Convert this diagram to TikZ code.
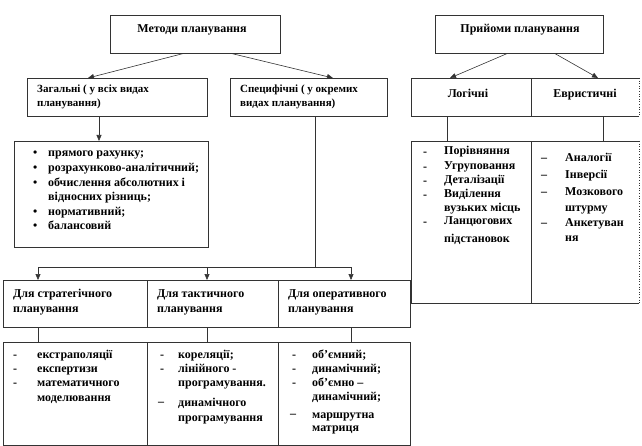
\documentclass[tikz,border=0pt]{standalone}
\usepackage{fontspec}
\setmainfont{Liberation Serif}
\usetikzlibrary{arrows.meta}
\begin{document}
\begin{tikzpicture}[x=1pt,y=-1pt,
  every node/.style={font=\fontsize{12}{14}\selectfont\bfseries},
  box/.style={draw=black!80, line width=0.6pt, inner sep=0pt, anchor=north west},
  openbox/.style={inner sep=0pt, anchor=north west},
  conn/.style={draw=black!80, line width=0.6pt},
  arr/.style={conn, -{Triangle[length=6pt,width=5pt]}},
  txt/.style={anchor=base west, inner sep=0pt},
  stxt/.style={txt, font=\fontsize{11}{13}\selectfont\bfseries},
  ctxt/.style={anchor=base, inner sep=0pt}]
\useasboundingbox (0,0) rectangle (642,446);

% top boxes
\node[box, minimum width=170pt, minimum height=38pt] (metody) at (110,15) {};
\node[box, minimum width=168pt, minimum height=38pt] (pryiomy) at (435,15) {};
\node[ctxt] (tmetody) at (192,33) {Методи планування};
\node[ctxt] (tpryiomy) at (520,33) {Прийоми планування};

% second row
\node[box, minimum width=180pt, minimum height=38pt] (zag) at (27,78) {};
\node[box, minimum width=157pt, minimum height=38pt] (spec) at (230,78) {};
\node[box, minimum width=120pt, minimum height=38pt] (log) at (411,78) {};
\node[openbox, minimum width=108pt, minimum height=38pt] (evr) at (531,78) {};
\draw[conn] (evr.north west) -- (evr.north east);
\draw[conn] (evr.south west) -- (evr.south east);
\draw[conn, dotted] (evr.north east) -- (evr.south east);

\node[stxt] (tzag1) at (37,93) {Загальні ( у всіх видах};
\node[stxt] (tzag2) at (37,107) {планування)};
\node[stxt] (tspec1) at (240,93) {Специфічні ( у окремих};
\node[stxt] (tspec2) at (240,107) {видах планування)};
\node[ctxt] (tlog) at (468,98) {Логічні};
\node[ctxt] (tevr) at (585,98) {Евристичні};

% arrows from top boxes
\draw[arr] ([xshift=73pt]metody.south west) -- ([xshift=61pt]zag.north west);
\draw[arr] ([xshift=122pt]metody.south west) -- ([xshift=103pt]spec.north west);
\draw[arr] ([xshift=72pt]pryiomy.south west) -- ([xshift=39pt]log.north west);
\draw[arr] ([xshift=120pt]pryiomy.south west) -- ([xshift=67pt]evr.north west);

% bullet list box
\node[box, minimum width=194pt, minimum height=106pt] (bul) at (14,141) {};
\draw[arr] ([xshift=72pt]zag.south west) -- ([xshift=85pt]bul.north west);
\node[txt] (b1d) at (33,157) {•};
\node[txt] (b1) at (48,157) {прямого рахунку;};
\node[txt] (b2d) at (33,172) {•};
\node[txt] (b2) at (48,172) {розрахунково-аналітичний;};
\node[txt] (b3d) at (33,187) {•};
\node[txt] (b3) at (48,187) {обчислення абсолютних і};
\node[txt] (b3b) at (48,201) {відносних різниць;};
\node[txt] (b4d) at (33,216) {•};
\node[txt] (b4) at (48,216) {нормативний;};
\node[txt] (b5d) at (33,230) {•};
\node[txt] (b5) at (48,230) {балансовий};

% logical / heuristic lists
\node[box, minimum width=120pt, minimum height=162pt] (loglist) at (411,141) {};
\node[openbox, minimum width=108pt, minimum height=162pt] (evrlist) at (531,141) {};
\draw[conn] (evrlist.north west) -- (evrlist.north east);
\draw[conn] (evrlist.south west) -- (evrlist.south east);
\draw[conn, dotted] (evrlist.north east) -- (evrlist.south east);
\draw[conn] ([xshift=36pt]log.south west) -- ([xshift=36pt]loglist.north west);
\draw[conn] ([xshift=72pt]evr.south west) -- ([xshift=72pt]evrlist.north west);

\node[txt] (l1d) at (423,156) {-};
\node[txt] (l1) at (444,155) {Порівняння};
\node[txt] (l2d) at (423,171) {-};
\node[txt] (l2) at (444,170) {Угруповання};
\node[txt] (l3d) at (423,185) {-};
\node[txt] (l3) at (444,184) {Деталізації};
\node[txt] (l4d) at (423,199) {-};
\node[txt] (l4) at (444,198) {Виділення};
\node[txt] (l4b) at (444,212) {вузьких місць};
\node[txt] (l5d) at (423,226) {-};
\node[txt] (l5) at (444,225) {Ланцюгових};
\node[txt] (l5b) at (444,243) {підстановок};

\node[txt] (e1d) at (541,162) {–};
\node[txt] (e1) at (565,162) {Аналогії};
\node[txt] (e2d) at (541,179) {–};
\node[txt] (e2) at (565,179) {Інверсії};
\node[txt] (e3d) at (541,196) {–};
\node[txt] (e3) at (565,196) {Мозкового};
\node[txt] (e3b) at (565,212) {штурму};
\node[txt] (e4d) at (541,227) {–};
\node[txt] (e4) at (565,227) {Анкетуван};
\node[txt] (e4b) at (565,242) {ня};

% third row
\node[box, minimum width=144pt, minimum height=47pt] (strat) at (3,280) {};
\node[box, minimum width=131pt, minimum height=47pt] (takt) at (147,280) {};
\node[box, minimum width=132pt, minimum height=47pt] (oper) at (278,280) {};
\node[txt] (ts1) at (13,297) {Для стратегічного};
\node[txt] (ts2) at (13,312) {планування};
\node[txt] (tt1) at (157,297) {Для тактичного};
\node[txt] (tt2) at (157,312) {планування};
\node[txt] (to1) at (288,297) {Для оперативного};
\node[txt] (to2) at (288,312) {планування};

\coordinate (jl) at (38,267);
\coordinate (jm) at (207,267);
\coordinate (jr) at (351,267);
\coordinate (js) at (315,267);
\draw[conn] ([xshift=85pt]spec.south west) -- (js);
\draw[conn] (jl) -- (jr);
\draw[arr] (jl) -- ([xshift=35pt]strat.north west);
\draw[arr] (jm) -- ([xshift=60pt]takt.north west);
\draw[arr] (jr) -- ([xshift=73pt]oper.north west);

% detail boxes
\node[box, minimum width=144pt, minimum height=103pt] (d1) at (3,342) {};
\node[box, minimum width=131pt, minimum height=103pt] (d2) at (147,342) {};
\node[box, minimum width=132pt, minimum height=103pt] (d3) at (278,342) {};
\draw[conn] ([xshift=35pt]strat.south west) -- ([xshift=35pt]d1.north west);
\draw[conn] ([xshift=60pt]takt.south west) -- ([xshift=60pt]d2.north west);
\draw[conn] ([xshift=73pt]oper.south west) -- ([xshift=73pt]d3.north west);

\node[txt] (s1d) at (13,358) {-};
\node[txt] (s1) at (37,358) {екстраполяції};
\node[txt] (s2d) at (13,372) {-};
\node[txt] (s2) at (37,372) {експертизи};
\node[txt] (s3d) at (13,386) {-};
\node[txt] (s3) at (37,386) {математичного};
\node[txt] (s3b) at (37,401) {моделювання};

\node[txt] (k1d) at (160,358) {-};
\node[txt] (k1) at (178,358) {кореляції;};
\node[txt] (k2d) at (160,372) {-};
\node[txt] (k2) at (178,372) {лінійного -};
\node[txt] (k2b) at (178,386) {програмування.};
\node[txt] (k3d) at (158,405) {–};
\node[txt] (k3) at (178,406) {динамічного};
\node[txt] (k3b) at (178,421) {програмування};

\node[txt] (o1d) at (292,358) {-};
\node[txt] (o1) at (312,358) {об'ємний;};
\node[txt] (o2d) at (292,372) {-};
\node[txt] (o2) at (312,372) {динамічний;};
\node[txt] (o3d) at (292,386) {-};
\node[txt] (o3) at (312,386) {об'ємно –};
\node[txt] (o3b) at (312,400) {динамічний;};
\node[txt] (o4d) at (290,417) {–};
\node[txt] (o4) at (312,418) {маршрутна};
\node[txt] (o4b) at (312,431) {матриця};
\end{tikzpicture}
\end{document}
